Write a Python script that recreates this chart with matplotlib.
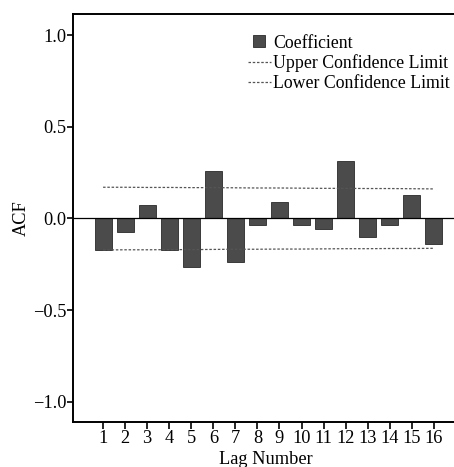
import numpy as np
import matplotlib.pyplot as plt
from matplotlib.lines import Line2D

# ACF coefficients by lag
lags = np.arange(1, 17)
acf = [-0.174, -0.076, 0.071, -0.170, -0.265, 0.259, -0.235, -0.038,
       0.089, -0.038, -0.058, 0.312, -0.101, -0.038, 0.127, -0.138]
upper_conf = [0.170, 0.170, 0.169, 0.169, 0.168, 0.168, 0.167, 0.166,
              0.166, 0.165, 0.164, 0.164, 0.163, 0.163, 0.162, 0.161]
lower_conf = [-0.172, -0.171, -0.171, -0.170, -0.170, -0.169, -0.168, -0.168,
              -0.167, -0.167, -0.166, -0.165, -0.165, -0.164, -0.164, -0.163]

plt.rcParams["font.family"] = ["Liberation Serif", "DejaVu Serif"]
fs = 13.2

fig = plt.figure(figsize=(4.54, 4.67), dpi=100)
ax = fig.add_axes([0.161, 0.0964, 0.848, 0.8737])

bar_color = "#4b4b4b"
ax.bar(lags, acf, width=0.77, color=bar_color, edgecolor="#2a2a2a", linewidth=0.6, zorder=2)
ax.axhline(0.0, color="black", linewidth=0.9, zorder=3)
dash = (0, (2.0, 1.4))
ax.plot(lags, upper_conf, color="#555555", linewidth=0.9, linestyle=dash, zorder=4)
ax.plot(lags, lower_conf, color="#555555", linewidth=0.9, linestyle=dash, zorder=4)

ax.set_xlim(-0.36, 17.1)
ax.set_ylim(-1.11, 1.115)
ax.set_xticks(lags)
ax.set_xticklabels([str(k) for k in lags], fontsize=fs)
ax.set_yticks([-1.0, -0.5, 0.0, 0.5, 1.0])
ax.set_yticklabels(["\u22121.0", "\u22120.5", "0.0", "0.5", "1.0"], fontsize=fs)
ax.tick_params(axis="y", direction="out", length=4, width=1.2, pad=1)
ax.tick_params(axis="x", direction="out", length=5, width=1.2, pad=1)

for side in ("left", "bottom", "top"):
    ax.spines[side].set_linewidth(1.4)
ax.spines["right"].set_visible(False)

ax.set_ylabel("ACF", fontsize=fs, labelpad=2)
ax.set_xlabel("Lag Number", fontsize=fs, labelpad=3)

handles = [
    Line2D([], [], marker="s", linestyle="none", markersize=8,
           markerfacecolor=bar_color, markeredgecolor="#2a2a2a", markeredgewidth=0.6),
    Line2D([], [], color="#555555", linewidth=0.9, linestyle=dash),
    Line2D([], [], color="#555555", linewidth=0.9, linestyle=dash),
]
fig.legend(handles, ["Coefficient", "Upper Confidence Limit", "Lower Confidence Limit"],
           loc="upper left", bbox_to_anchor=(0.547, 0.926), frameon=False,
           fontsize=12.8, handlelength=1.25, handletextpad=0.15,
           labelspacing=0.15, borderpad=0, borderaxespad=0)

fig.savefig("out.png", dpi=100)
